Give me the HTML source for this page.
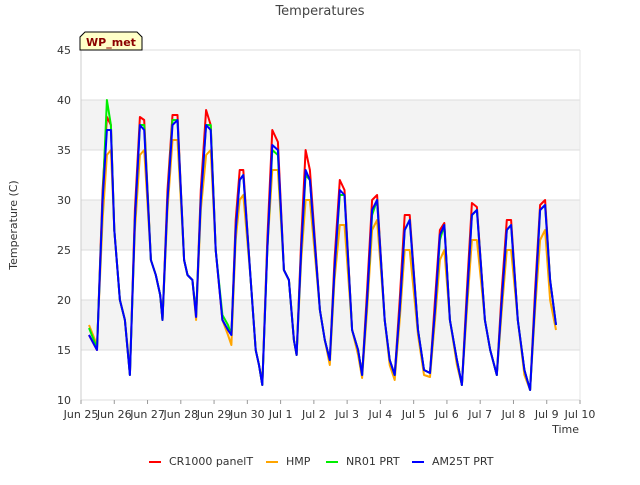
<!DOCTYPE html>
<html><head><meta charset="utf-8"><style>
body{margin:0;background:#fff;font-family:"Liberation Sans","DejaVu Sans",sans-serif;}
svg text{font-family:"DejaVu Sans","Liberation Sans",sans-serif;}
</style></head><body>
<svg id="chart" width="640" height="480" viewBox="0 0 640 480" xmlns="http://www.w3.org/2000/svg">
<rect width="640" height="480" fill="#fff"/>
<text x="320" y="15" text-anchor="middle" font-size="13" fill="#444">Temperatures</text>
<g id="plot"></g>
<g id="axes"></g>
<g id="series"></g>
<g>
<path d="M80,50 L80,37 L85,32 L137,32 L142,37 L142,50 Z" fill="#ffffc8" stroke="#000" stroke-width="1"/>
<text x="111" y="46" text-anchor="middle" font-size="11" font-weight="bold" fill="#8b0000">WP_met</text>
</g>
<text transform="translate(17,225) rotate(-90)" text-anchor="middle" font-size="11" fill="#333">Temperature (C)</text>
<text x="579" y="433" text-anchor="end" font-size="11" fill="#333">Time</text>
<g id="legend"></g>
</svg>
<script>
const yTicks=[10,15,20,25,30,35,40,45];
const xTickLabels=["Jun 25","Jun 26","Jun 27","Jun 28","Jun 29","Jun 30","Jul 1","Jul 2","Jul 3","Jul 4","Jul 5","Jul 6","Jul 7","Jul 8","Jul 9","Jul 10"];
const times=[0.24,0.48,0.65,0.78,0.9,1.0,1.17,1.32,1.47,1.62,1.77,1.9,2.1,2.25,2.38,2.45,2.6,2.75,2.9,3.1,3.2,3.35,3.46,3.6,3.76,3.9,4.05,4.25,4.42,4.52,4.65,4.77,4.88,5.1,5.25,5.35,5.45,5.6,5.75,5.92,6.1,6.25,6.4,6.48,6.62,6.75,6.88,7.18,7.33,7.48,7.62,7.78,7.92,8.15,8.33,8.45,8.6,8.75,8.9,9.13,9.28,9.43,9.58,9.73,9.88,10.13,10.31,10.49,10.64,10.79,10.92,11.09,11.3,11.45,11.6,11.75,11.9,12.14,12.3,12.5,12.65,12.8,12.93,13.13,13.33,13.5,13.65,13.8,13.95,14.1,14.28];
const am25t=[16.5,15,30,37,37,27,20,18,12.5,28,37.5,37,24,22.5,20.5,18,30,37.5,38,24,22.5,22,18.3,30,37.5,37,25,18,17,16.5,27,32,32.5,22,15,13.5,11.5,25,35.5,35,23,22,16,14.5,25,33,32,19,16,14,23,31,30.5,17,15,12.5,20,29,30,18,14,12.5,19,27,28,17,13,12.7,19,26.5,27.5,18,14,11.5,20,28.5,29,18,15,12.5,20,27,27.5,18,13,11,20,29,29.5,22,17.5];
const cr1000=[16.5,15,31,38.3,37.5,27,20,18,12.5,29,38.3,38,24,22.5,20.5,18,31,38.5,38.5,24,22.5,22,18.3,31,39,37.5,25,18,17,16.5,28,33,33,22,15,13.5,11.5,26,37,35.8,23,22,16,14.5,26,35,33,19,16,14,24,32,31,17,15,12.5,21,30,30.5,18,14,12.5,20,28.5,28.5,17,13,12.7,20,27,27.7,18,14,11.5,21,29.7,29.3,18,15,12.5,21,28,28,18,13,11,21,29.5,30,22,17.5];
const hmp=[17.5,15.5,28,34.5,35,27,20,18,13,27,34.5,35,24,22.5,20.5,18,29,36,36,24,22.5,22,18,29,34.5,35,25,18,16.5,15.5,26,30,30.5,22,15,13.5,11.5,25,33,33,23,22,16,14.5,24,30,30,19,16,13.5,22,27.5,27.5,17,14.5,12.2,19,27,28,18,13.5,12,18,25,25,16.5,12.5,12.3,18,24,25,18,13.5,11.5,19,26,26,18,15,12.5,19,25,25,18,12.5,11,19,26,27,20,17];
const nr01=[17.2,15.2,30,40,37.5,27,20,18,12.5,28,37.5,37.5,24,22.5,20.5,18,30,38,38,24,22.5,22,18.5,30,37.5,37.5,25,18.5,17.5,16.5,27,32,32.5,22,15,13.5,11.5,25,35,34.5,23,22,16,14.5,25,32.5,32,19,16,14,23,30.5,30.5,17,15,12.5,20,28.5,30,18,14,12.5,19,27,28,17,13,12.7,19,26,27.5,18,14,11.5,20,28.5,29,18,15,12.5,20,27,27.5,18,13,11,20,29,29.5,22,17.5];
const seriesNames=["CR1000 panelT","HMP","NR01 PRT","AM25T PRT"];
const seriesData=[cr1000,hmp,nr01,am25t];
const seriesColors=["#ff0000","#ffa500","#00ee00","#0000ff"];
const NS="http://www.w3.org/2000/svg";
const L=81,R=580,T=50,B=400;
const xs=d=>L+d*(R-L)/15;
const ys=v=>B-(v-10)*(B-T)/35;
function mk(tag,attrs,parent){const e=document.createElementNS(NS,tag);for(const k in attrs)e.setAttribute(k,attrs[k]);parent.appendChild(e);return e;}
const plot=document.getElementById('plot');
mk('rect',{x:L,y:T,width:R-L,height:B-T,fill:'#fff'},plot);
for(let v=15;v<45;v+=10){const r=mk('rect',{x:L,y:ys(v+5),width:R-L,height:ys(v)-ys(v+5),fill:'#f3f3f3'},plot);

}
const axes=document.getElementById('axes');
yTicks.forEach(v=>{mk('line',{x1:L,x2:R,y1:ys(v),y2:ys(v),stroke:'#ddd','stroke-width':1},axes);
const t=mk('text',{x:L-10,y:ys(v)+4,'text-anchor':'end','font-size':11,fill:'#333'},axes);t.textContent=v;

});
mk('line',{x1:L,x2:L,y1:T,y2:B,stroke:'#ccc'},axes);
mk('line',{x1:R,x2:R,y1:T,y2:B,stroke:'#e4e4e4'},axes);
xTickLabels.forEach((s,i)=>{mk('line',{x1:xs(i),x2:xs(i),y1:B,y2:B+4,stroke:'#999'},axes);
const t=mk('text',{x:xs(i),y:B+18,'text-anchor':'middle','font-size':11,fill:'#333'},axes);t.textContent=s;

});
const sg=document.getElementById('series');
seriesData.forEach((arr,si)=>{const d=arr.map((v,i)=>(i?'L':'M')+xs(times[i]).toFixed(1)+','+ys(v).toFixed(1)).join(' ');
const p=mk('path',{d:d,fill:'none',stroke:seriesColors[si],'stroke-width':2,'stroke-linejoin':'round'},sg);

});
const lg=document.getElementById('legend');
const lx=[149,266,326,412];
seriesNames.forEach((n,i)=>{const g=mk('g',{},lg);


mk('line',{x1:lx[i],x2:lx[i]+12,y1:462,y2:462,stroke:seriesColors[i],'stroke-width':2},g);
const t=mk('text',{x:lx[i]+20,y:465,'font-size':11,fill:'#333'},g);t.textContent=n;});
</script>
</body></html>
